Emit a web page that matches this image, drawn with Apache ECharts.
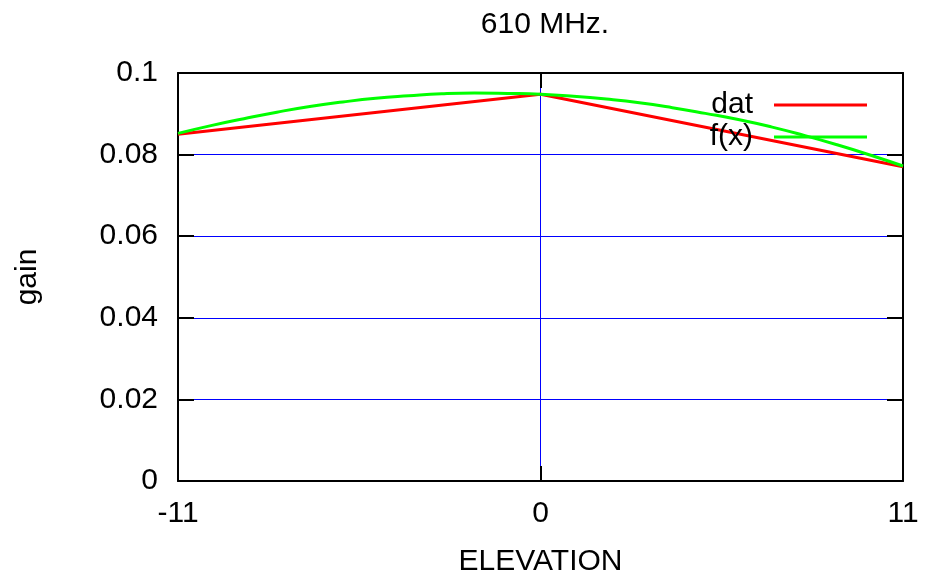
<!DOCTYPE html>
<html>
<head>
<meta charset="utf-8">
<script src="https://cdn.jsdelivr.net/npm/echarts@6/dist/echarts.min.js"></script>
<style>
html,body{margin:0;padding:0;background:#fff;}
#c{width:926px;height:575px;}
</style>
</head>
<body>
<div id="c"></div>
<script>
// Data
var titleText = '610 MHz.';
var xName = 'ELEVATION';
var yName = 'gain';
var datX = [-11, 0, 11];
var datY = [0.0850, 0.0948, 0.0770];
var fitX = [-11, -10, -9, -8, -7, -6, -5, -4, -3, -2, -1, 0, 1, 2, 3, 4, 5, 6, 7, 8, 9, 10, 11];
var fitY = [0.0852, 0.0871, 0.0888, 0.0904, 0.0918, 0.0929, 0.0938, 0.0944, 0.0949, 0.0951, 0.0950, 0.0948,
            0.0943, 0.0936, 0.0927, 0.0915, 0.0901, 0.0886, 0.0868, 0.0847, 0.0824, 0.0799, 0.0772];

var FONT = 'Liberation Sans, Arial, sans-serif';
var FS = 30;

var datData = datX.map(function (x, i) { return [x, datY[i]]; });
var fitData = fitX.map(function (x, i) { return [x, fitY[i]]; });

var chart = echarts.init(document.getElementById('c'), null, {renderer: 'canvas'});
var blue = '#0000ff';
chart.setOption({
  backgroundColor: '#ffffff',
  animation: false,
  textStyle: {fontFamily: FONT},
  title: {
    text: titleText, left: 540, textAlign: 'center', top: 5,
    textStyle: {fontFamily: FONT, fontSize: FS, fontWeight: 'normal', color: '#000'}
  },
  grid: {left: 178, right: 23, top: 73, bottom: 94, containLabel: false, outerBoundsMode: 'none'},
  legend: [{
    data: [{name: 'dat', icon: 'rect', itemStyle: {color: '#ff0000'}}],
    orient: 'vertical', align: 'right', right: 59, top: 90, padding: 0,
    itemWidth: 93, itemHeight: 3,
    textStyle: {fontFamily: FONT, fontSize: FS, color: '#000', lineHeight: 30, padding: [0, 16, 0, 0]}
  }, {
    data: [{name: 'f(x)', icon: 'rect', itemStyle: {color: '#00ff00'}}],
    orient: 'vertical', align: 'right', right: 59, top: 122, padding: 0,
    itemWidth: 93, itemHeight: 3,
    textStyle: {fontFamily: FONT, fontSize: FS, color: '#000', lineHeight: 30, padding: [0, 16, 0, 0]}
  }],
  xAxis: [{
    type: 'value', min: -11, max: 11, interval: 11, position: 'bottom',
    name: xName, nameLocation: 'middle', nameGap: 66,
    nameTextStyle: {fontFamily: FONT, fontSize: FS, color: '#000'},
    axisLine: {show: true, onZero: false, lineStyle: {color: '#000', width: 2}},
    axisTick: {show: true, inside: true, length: 15, lineStyle: {color: '#000', width: 2}},
    axisLabel: {fontFamily: FONT, fontSize: FS, color: '#000', margin: 18},
    splitLine: {show: true, lineStyle: {color: ['transparent', blue, 'transparent'], width: 1}}
  }, {
    type: 'value', min: -11, max: 11, interval: 11, position: 'top',
    axisLine: {show: true, onZero: false, lineStyle: {color: '#000', width: 2}},
    axisTick: {show: true, inside: true, length: 15, lineStyle: {color: '#000', width: 2}},
    axisLabel: {show: false},
    splitLine: {show: false}
  }],
  yAxis: [{
    type: 'value', min: 0, max: 0.1, interval: 0.02, position: 'left',
    name: yName, nameLocation: 'middle', nameGap: 135, nameRotate: 90,
    nameTextStyle: {fontFamily: FONT, fontSize: FS, color: '#000'},
    axisLine: {show: true, onZero: false, lineStyle: {color: '#000', width: 2}},
    axisTick: {show: true, inside: true, length: 16, lineStyle: {color: '#000', width: 2}},
    axisLabel: {fontFamily: FONT, fontSize: FS, color: '#000', margin: 20,
      formatter: function (v) { return String(Math.round(v * 100) / 100); }},
    splitLine: {show: true, lineStyle: {color: ['transparent', blue, blue, blue, blue, 'transparent'], width: 1}}
  }, {
    type: 'value', min: 0, max: 0.1, interval: 0.02, position: 'right',
    axisLine: {show: true, onZero: false, lineStyle: {color: '#000', width: 2}},
    axisTick: {show: true, inside: true, length: 16, lineStyle: {color: '#000', width: 2}},
    axisLabel: {show: false},
    splitLine: {show: false}
  }],
  series: [{
    name: 'dat', type: 'line', data: datData, showSymbol: false, symbol: 'none',
    lineStyle: {color: '#ff0000', width: 3}, itemStyle: {color: '#ff0000'}, z: 3
  }, {
    name: 'f(x)', type: 'line', data: fitData, smooth: true, showSymbol: false, symbol: 'none',
    lineStyle: {color: '#00ff00', width: 3}, itemStyle: {color: '#00ff00'}, z: 4
  }]
});
</script>
</body>
</html>
